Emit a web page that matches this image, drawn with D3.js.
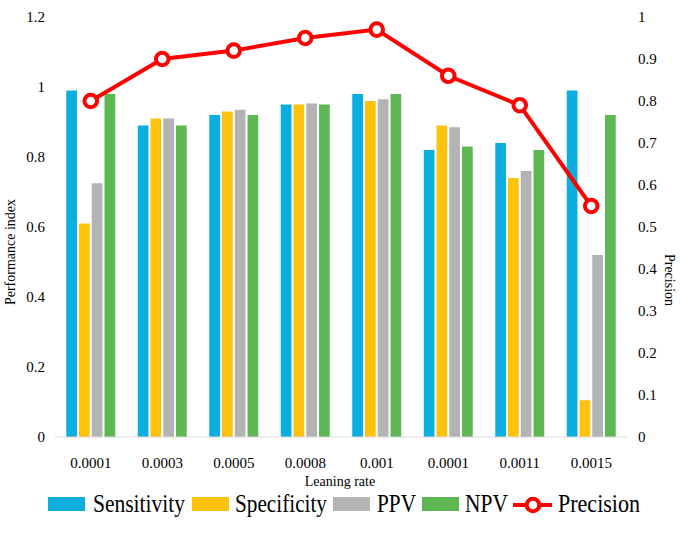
<!DOCTYPE html>
<html>
<head>
<meta charset="utf-8">
<script src="https://cdn.jsdelivr.net/npm/d3@7"></script>
<style>
  body { margin: 0; background: #fff; }
</style>
</head>
<body>
<svg id="chart" width="680" height="535" font-family="Liberation Serif, serif"></svg>
<script>
// data
const rates = ["0.0001", "0.0003", "0.0005", "0.0008", "0.001", "0.0001 ", "0.0011", "0.0015"];
const sensitivity = [0.99, 0.89, 0.92, 0.95, 0.98, 0.82, 0.84, 0.99];
const specificity = [0.61, 0.91, 0.93, 0.95, 0.96, 0.89, 0.74, 0.105];
const ppv = [0.725, 0.91, 0.935, 0.953, 0.965, 0.885, 0.76, 0.52];
const npv = [0.98, 0.89, 0.92, 0.95, 0.98, 0.83, 0.82, 0.92];
const precision = [0.80, 0.90, 0.92, 0.95, 0.97, 0.86, 0.79, 0.55];
const leftTicks = [0, 0.2, 0.4, 0.6, 0.8, 1, 1.2];
const rightTicks = [0, 0.1, 0.2, 0.3, 0.4, 0.5, 0.6, 0.7, 0.8, 0.9, 1];

const series = [
  { name: "Sensitivity", values: sensitivity, color: "#0BAEDF" },
  { name: "Specificity", values: specificity, color: "#FFC20A" },
  { name: "PPV", values: ppv, color: "#B3B3B3" },
  { name: "NPV", values: npv, color: "#5DB854" }
];

const svg = d3.select("#chart");
const plotLeft = 55, plotRight = 627, plotTop = 17, plotBottom = 437;

const x = d3.scaleBand()
  .domain(rates)
  .range([plotLeft, plotRight])
  .paddingInner(0.315)
  .paddingOuter(0.1575);
const xs = d3.scaleBand()
  .domain(series.map(s => s.name))
  .range([0, x.bandwidth()])
  .paddingInner(0.16);
const yL = d3.scaleLinear().domain([0, 1.2]).range([plotBottom, plotTop]);
const yR = d3.scaleLinear().domain([0, 1]).range([plotBottom, plotTop]);

// bars
const groups = svg.append("g")
  .selectAll("g")
  .data(rates)
  .join("g")
  .attr("transform", d => "translate(" + x(d) + ",0)");
groups.selectAll("rect")
  .data((d, i) => series.map(s => ({ name: s.name, v: s.values[i], color: s.color })))
  .join("rect")
  .attr("x", d => xs(d.name))
  .attr("y", d => yL(d.v))
  .attr("width", xs.bandwidth())
  .attr("height", d => plotBottom - yL(d.v))
  .attr("fill", d => d.color);

// x axis line
svg.append("line")
  .attr("x1", plotLeft).attr("x2", plotRight)
  .attr("y1", plotBottom).attr("y2", plotBottom)
  .attr("stroke", "#d9d9d9").attr("stroke-width", 1);

// x labels
svg.append("g")
  .selectAll("text")
  .data(rates)
  .join("text")
  .attr("x", d => x(d) + x.bandwidth() / 2)
  .attr("y", 468)
  .attr("text-anchor", "middle")
  .attr("font-size", 15)
  .text(d => d.trim());

// left ticks
svg.append("g")
  .selectAll("text")
  .data(leftTicks)
  .join("text")
  .attr("x", 45)
  .attr("y", d => yL(d) + 5)
  .attr("text-anchor", "end")
  .attr("font-size", 15)
  .text(d => d3.format("")(d));

// right ticks
svg.append("g")
  .selectAll("text")
  .data(rightTicks)
  .join("text")
  .attr("x", 638)
  .attr("y", d => yR(d) + 5)
  .attr("font-size", 15)
  .text(d => d3.format("")(+d.toFixed(1)));

// axis titles
svg.append("text")
  .attr("transform", "translate(15,252) rotate(-90)")
  .attr("text-anchor", "middle")
  .attr("font-size", 14)
  .text("Performance index");
svg.append("text")
  .attr("transform", "translate(665,280) rotate(90)")
  .attr("text-anchor", "middle")
  .attr("font-size", 14)
  .text("Precision");
svg.append("text")
  .attr("x", 340).attr("y", 486)
  .attr("text-anchor", "middle")
  .attr("font-size", 14)
  .text("Leaning rate");

// precision line
const line = d3.line()
  .x((d, i) => x(rates[i]) + x.bandwidth() / 2)
  .y(d => yR(d));
svg.append("path")
  .datum(precision)
  .attr("d", line)
  .attr("fill", "none")
  .attr("stroke", "#FF0000")
  .attr("stroke-width", 4);
svg.append("g")
  .selectAll("circle")
  .data(precision)
  .join("circle")
  .attr("cx", (d, i) => x(rates[i]) + x.bandwidth() / 2)
  .attr("cy", d => yR(d))
  .attr("r", 6.3)
  .attr("fill", "#fff")
  .attr("stroke", "#FF0000")
  .attr("stroke-width", 4);

// legend
const legend = svg.append("g").attr("transform", "translate(0,504)");
const items = [
  { name: "Sensitivity", color: series[0].color, x: 48, tx: 93, w: 92 },
  { name: "Specificity", color: series[1].color, x: 192, tx: 235, w: 92 },
  { name: "PPV", color: series[2].color, x: 333, tx: 377, w: 39 },
  { name: "NPV", color: series[3].color, x: 422, tx: 465, w: 43 }
];
legend.selectAll("rect")
  .data(items)
  .join("rect")
  .attr("x", d => d.x)
  .attr("y", -7)
  .attr("width", 37)
  .attr("height", 14)
  .attr("fill", d => d.color);
legend.selectAll("text.item")
  .data(items.concat([{ name: "Precision", tx: 558, w: 82 }]))
  .join("text")
  .attr("class", "item")
  .attr("x", d => d.tx)
  .attr("y", 8)
  .attr("font-size", 25)
  .attr("textLength", d => d.w)
  .attr("lengthAdjust", "spacingAndGlyphs")
  .text(d => d.name);
legend.append("line")
  .attr("x1", 513).attr("x2", 552)
  .attr("y1", 1).attr("y2", 1)
  .attr("stroke", "#FF0000").attr("stroke-width", 4);
legend.append("circle")
  .attr("cx", 533).attr("cy", 1).attr("r", 6.3)
  .attr("fill", "#fff").attr("stroke", "#FF0000").attr("stroke-width", 4);
</script>
</body>
</html>
